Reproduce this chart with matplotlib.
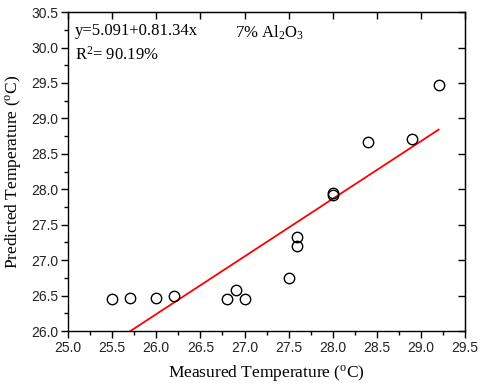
import matplotlib
matplotlib.use("Agg")
import matplotlib.pyplot as plt
import numpy as np
from matplotlib.ticker import MultipleLocator, FormatStrFormatter

plt.rcParams['font.family'] = ['Liberation Sans', 'DejaVu Sans']

measured = [25.5, 25.7, 26.0, 26.2, 26.8, 26.9, 27.0, 27.5, 27.6, 27.6, 28.0, 28.0, 28.4, 28.9, 29.2]
predicted = [26.45, 26.46, 26.47, 26.50, 26.45, 26.58, 26.45, 26.75, 27.33, 27.20, 27.95, 27.92, 28.67, 28.71, 29.47]
intercept = 5.091
slope = 0.8134
fit_x = [25.5, 29.2]

fig = plt.figure(figsize=(4.8, 3.9), dpi=100)
ax = fig.add_axes([0.1417, 0.151, 0.8273, 0.818])

ax.plot(measured, predicted, linestyle='none', marker='o', markersize=7.5,
        markerfacecolor='none', markeredgecolor='black', markeredgewidth=1.0, zorder=3)
fx = np.array(fit_x)
ax.plot(fx, intercept + slope * fx, color='red', lw=1.3, zorder=2)

ax.set_xlim(25.0, 29.5)
ax.set_ylim(26.0, 30.5)
ax.xaxis.set_major_locator(MultipleLocator(0.5))
ax.xaxis.set_minor_locator(MultipleLocator(0.25))
ax.yaxis.set_major_locator(MultipleLocator(0.5))
ax.yaxis.set_minor_locator(MultipleLocator(0.25))
ax.xaxis.set_major_formatter(FormatStrFormatter('%.1f'))
ax.yaxis.set_major_formatter(FormatStrFormatter('%.1f'))

ax.tick_params(which='major', direction='out', length=5, width=1, top=False, right=False,
               labelsize=10, pad=2, labelcolor='#222222')
ax.tick_params(which='minor', direction='out', length=3, width=1, top=False, right=False)

# inward ticks on top and right
sec_x = ax.secondary_xaxis('top')
sec_x.xaxis.set_major_locator(MultipleLocator(0.5))
sec_x.tick_params(direction='in', length=5, width=1, labeltop=False)
sec_y = ax.secondary_yaxis('right')
sec_y.yaxis.set_major_locator(MultipleLocator(0.5))
sec_y.tick_params(direction='in', length=5, width=1, labelright=False)

for s in ax.spines.values():
    s.set_linewidth(1.0)

serif = 'Liberation Serif'
ax.set_xlabel('Measured Temperature ($\\mathregular{^{o}}$C)', fontfamily=serif,
              fontsize=12.5, labelpad=6)
ax.set_ylabel('Predicted Temperature ($\\mathregular{^{o}}$C)', fontfamily=serif,
              fontsize=12.5, labelpad=6)

ax.text(0.018, 0.965, 'y=5.091+0.81.34x', transform=ax.transAxes, fontfamily=serif,
        fontsize=12, va='top', ha='left')
ax.text(0.42, 0.965, '7% Al$\\mathregular{_2}$O$\\mathregular{_3}$', transform=ax.transAxes,
        fontfamily=serif, fontsize=12, va='top', ha='left')
ax.text(0.018, 0.895, 'R$\\mathregular{^2}$= 90.19%', transform=ax.transAxes,
        fontfamily=serif, fontsize=12, va='top', ha='left')

fig.savefig('out.png', dpi=100)
